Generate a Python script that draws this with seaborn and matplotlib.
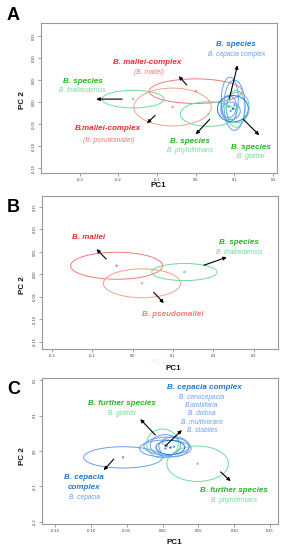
import matplotlib
matplotlib.use("Agg")
import matplotlib.pyplot as plt
import seaborn as sns
import pandas as pd
from matplotlib.patches import Ellipse

sns.set_style("white")
plt.rcParams['font.family'] = ['Liberation Sans', 'DejaVu Sans']

# colours
RED = '#ee2a2a'
LRED = '#f07a7a'
SALMON = '#f5a08a'
GREEN = '#22b522'
LGREEN = '#6fdc98'
BLUE = '#1f78d1'
LBLUE = '#6a9eec'
TEAL = '#5cc8c8'

# ---------------- Panel A data ----------------
a_group = ['thailandensis', 'mallei', 'pseudomallei', 'phytofirmans', 'glathei',
           'cep1', 'cep2', 'cep3', 'cep4', 'cep5', 'cep6']
a_cx = [-0.162, 0.000, -0.060, 0.033, 0.104, 0.088, 0.100, 0.096, 0.090, 0.085, 0.108]
a_cy = [0.007, 0.025, -0.011, -0.027, -0.015, 0.006, -0.007, -0.015, -0.020, -0.010, -0.012]
a_rx = [0.080, 0.120, 0.100, 0.073, 0.024, 0.022, 0.027, 0.040, 0.025, 0.020, 0.030]
a_ry = [0.020, 0.028, 0.043, 0.028, 0.042, 0.051, 0.057, 0.030, 0.020, 0.025, 0.035]
a_col = [LGREEN, LRED, SALMON, LGREEN, LGREEN, LBLUE, LBLUE, BLUE, LBLUE, LBLUE, TEAL]

a_arrow_x0 = [-0.190, -0.023, -0.105, 0.036, 0.123, 0.087]
a_arrow_y0 = [0.007, 0.039, -0.030, -0.039, -0.039, 0.009]
a_arrow_x1 = [-0.257, -0.044, -0.126, 0.000, 0.164, 0.108]
a_arrow_y1 = [0.007, 0.059, -0.048, -0.073, -0.075, 0.084]

a_labels = [
    ('B. species', -0.292, 0.048, GREEN, True),
    ('B. thailandensis', -0.292, 0.027, LGREEN, False),
    ('B. mallei-complex', -0.126, 0.091, RED, True),
    ('(B. mallei)', -0.122, 0.068, LRED, False),
    ('B.mallei-complex', -0.226, -0.059, RED, True),
    ('(B. pseudomallei)', -0.226, -0.086, LRED, False),
    ('B. species', -0.016, -0.089, GREEN, True),
    ('B. phytofirmans', -0.016, -0.109, LGREEN, False),
    ('B. species', 0.105, 0.130, BLUE, True),
    ('B. cepacia complex', 0.105, 0.109, LBLUE, False),
    ('B. species', 0.143, -0.102, GREEN, True),
    ('B. glathei', 0.143, -0.123, LGREEN, False),
]
a_xticks = [-0.3, -0.2, -0.1, 0.0, 0.1, 0.2]
a_xticklabels = ['-0.3', '-0.2', '-0.1', '0.0', '0.1', '0.2']
a_yticks = [0.15, 0.10, 0.05, 0.00, -0.05, -0.10, -0.15]
a_yticklabels = ['0.15', '0.10', '0.05', '0.00', '-0.05', '-0.10', '-0.15']

# ---------------- Panel B data ----------------
b_group = ['mallei', 'pseudomallei', 'thailandensis']
b_cx = [-0.040, 0.023, 0.128]
b_cy = [0.019, -0.020, 0.005]
b_rx = [0.114, 0.096, 0.081]
b_ry = [0.030, 0.032, 0.019]
b_col = [LRED, SALMON, LGREEN]

b_arrow_x0 = [-0.066, 0.052, 0.176]
b_arrow_y0 = [0.034, -0.040, 0.020]
b_arrow_x1 = [-0.090, 0.077, 0.233]
b_arrow_y1 = [0.056, -0.064, 0.038]

b_labels = [
    ('B. mallei', -0.110, 0.082, RED, True),
    ('B. species', 0.264, 0.071, GREEN, True),
    ('B. thailandensis', 0.264, 0.049, LGREEN, False),
    ('B. pseudomallei', 0.100, -0.090, LRED, True),
]
b_xticks = [-0.2, -0.1, 0.0, 0.1, 0.2, 0.3]
b_xticklabels = ['-0.2', '-0.1', '0.0', '0.1', '0.2', '0.3']

# ---------------- Panel C data ----------------
c_group = ['cepacia', 'phytofirmans', 'glathei', 'cx1', 'cx2', 'cx3', 'cx4', 'cx5']
c_cx = [-0.055, 0.049, 0.000, 0.004, 0.006, 0.011, 0.016, 0.004]
c_cy = [-0.018, -0.036, 0.021, 0.007, 0.014, 0.010, 0.012, 0.016]
c_rx = [0.055, 0.043, 0.022, 0.036, 0.032, 0.020, 0.021, 0.021]
c_ry = [0.030, 0.050, 0.041, 0.024, 0.025, 0.020, 0.028, 0.030]
c_col = [LBLUE, LGREEN, LGREEN, LBLUE, LBLUE, BLUE, LBLUE, LBLUE]

c_arrow_x0 = [-0.010, 0.004, -0.068, 0.081]
c_arrow_y0 = [0.045, 0.014, -0.023, -0.059]
c_arrow_x1 = [-0.031, 0.027, -0.082, 0.095]
c_arrow_y1 = [0.090, 0.059, -0.054, -0.085]

c_labels = [
    ('B. further species', -0.057, 0.133, GREEN, True),
    ('B. glathei', -0.057, 0.105, LGREEN, False),
    ('B. cepacia complex', 0.059, 0.180, BLUE, True),
    ('B. cenocepacia', 0.055, 0.152, LBLUE, False),
    ('B.ambifaria', 0.055, 0.128, LBLUE, False),
    ('B. dolosa', 0.055, 0.105, LBLUE, False),
    ('B. multivorans', 0.055, 0.081, LBLUE, False),
    ('B. stabiles', 0.055, 0.057, LBLUE, False),
    ('B. cepacia', -0.109, -0.075, BLUE, True),
    ('complex', -0.109, -0.103, BLUE, True),
    ('B. cepacia', -0.109, -0.131, LBLUE, False),
    ('B. further species', 0.100, -0.112, GREEN, True),
    ('B. phytofirmans', 0.100, -0.141, LGREEN, False),
]
c_xticks = [-0.15, -0.10, -0.05, 0.00, 0.05, 0.10, 0.15]
c_xticklabels = ['-0.15', '-0.10', '-0.05', '0.00', '0.05', '0.10', '0.15']
c_yticks = [0.2, 0.1, 0.0, -0.1, -0.2]
c_yticklabels = ['0.2', '0.1', '0.0', '-0.1', '-0.2']


def draw_panel(ax, group, cx, cy, rx, ry, col, ax0, ay0, ax1, ay1, labels):
    df = pd.DataFrame({'group': group, 'x': cx, 'y': cy})
    pal = dict(zip(group, col))
    sns.scatterplot(data=df, x='x', y='y', hue='group', palette=pal, s=3,
                    marker='o', linewidth=0, legend=False, ax=ax, zorder=3)
    for x, y, w, h, c in zip(cx, cy, rx, ry, col):
        ax.add_patch(Ellipse((x, y), 2 * w, 2 * h, fill=False, ec=c, lw=0.7))
    for x0, y0, x1, y1 in zip(ax0, ay0, ax1, ay1):
        ax.annotate('', xy=(x1, y1), xytext=(x0, y0),
                    arrowprops=dict(arrowstyle='-|>', color='black', lw=0.8,
                                    mutation_scale=5, shrinkA=0, shrinkB=0))
    for txt, x, y, c, bold in labels:
        ax.text(x, y, txt, color=c, ha='center', va='center', style='italic',
                fontweight='bold' if bold else 'normal',
                fontsize=5.8 if bold else 4.8)


def style_axes(ax, xlim, ylim, xt, xtl, yt, ytl):
    ax.set_xlim(*xlim)
    ax.set_ylim(*ylim)
    ax.set_xticks(xt)
    ax.set_xticklabels(xtl)
    ax.set_yticks(yt)
    ax.set_yticklabels(ytl, rotation=90, va='center')
    ax.tick_params(axis='both', labelsize=2.8, length=2, width=0.5,
                   color='#777777', labelcolor='#333333', pad=1.5, direction='out')
    ax.tick_params(bottom=True, left=True)
    for s in ax.spines.values():
        s.set_color('#999999')
        s.set_linewidth(0.8)
    ax.set_xlabel('')
    ax.set_ylabel('')


fig = plt.figure(figsize=(2.88, 5.5), dpi=100)

axA = fig.add_axes([41 / 288, 1 - 173 / 550, 236 / 288, 150 / 550])
draw_panel(axA, a_group, a_cx, a_cy, a_rx, a_ry, a_col,
           a_arrow_x0, a_arrow_y0, a_arrow_x1, a_arrow_y1, a_labels)
style_axes(axA, (-0.40, 0.21), (-0.161, 0.18), a_xticks, a_xticklabels,
           a_yticks, a_yticklabels)

axB = fig.add_axes([42 / 288, 1 - 349 / 550, 236 / 288, 153 / 550])
draw_panel(axB, b_group, b_cx, b_cy, b_rx, b_ry, b_col,
           b_arrow_x0, b_arrow_y0, b_arrow_x1, b_arrow_y1, b_labels)
style_axes(axB, (-0.225, 0.36), (-0.166, 0.174), b_xticks, b_xticklabels,
           a_yticks, a_yticklabels)

axC = fig.add_axes([42 / 288, 1 - 524 / 550, 236 / 288, 146 / 550])
draw_panel(axC, c_group, c_cx, c_cy, c_rx, c_ry, c_col,
           c_arrow_x0, c_arrow_y0, c_arrow_x1, c_arrow_y1, c_labels)
style_axes(axC, (-0.168, 0.161), (-0.206, 0.206), c_xticks, c_xticklabels,
           c_yticks, c_yticklabels)

# axis titles and panel letters
lab = dict(fontsize=5.8, fontweight='bold', color='#111111', ha='center', va='center')
fig.text(158 / 288, 1 - 185 / 550, 'PC1', **lab)
fig.text(22 / 288, 1 - 100 / 550, 'PC 2', rotation=90, **lab)
fig.text(158 / 288, 1 - 363 / 550, 'PC1', fontsize=5.8, fontweight='bold',
         color='#f2f2f2', ha='center', va='center')
fig.text(22 / 288, 1 - 285 / 550, 'PC 2', rotation=90, **lab)
fig.text(173 / 288, 1 - 369 / 550, 'PC1', **lab)
fig.text(22 / 288, 1 - 456 / 550, 'PC 2', rotation=90, **lab)
fig.text(174 / 288, 1 - 542 / 550, 'PC1', **lab)

let = dict(fontsize=13, fontweight='bold', color='black', ha='left', va='center')
fig.text(7 / 288, 1 - 16 / 550, 'A', **let)
fig.text(7 / 288, 1 - 207 / 550, 'B', **let)
fig.text(7 / 288, 1 - 389 / 550, 'C', **let)

fig.savefig('out.png', dpi=100)
